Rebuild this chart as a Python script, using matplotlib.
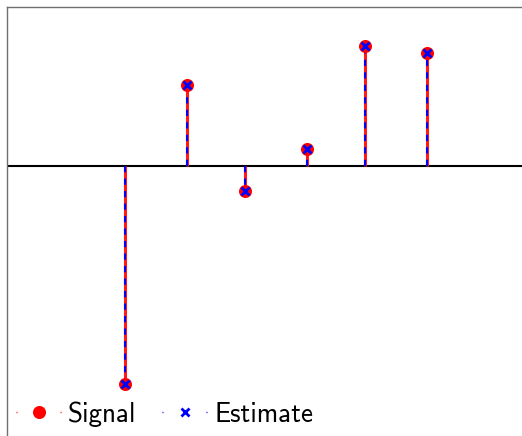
import matplotlib
matplotlib.use("Agg")
import matplotlib.pyplot as plt
from matplotlib.lines import Line2D
import numpy as np

# Sparse signal: support indices and amplitudes, plus the recovered estimate
support = [7, 22, 36, 51, 65, 80]
signal = [-2.175, 0.815, -0.245, 0.17, 1.20, 1.13]
estimate = [-2.175, 0.815, -0.245, 0.17, 1.20, 1.13]
labels = ["Signal", "Estimate"]

W, H, DPI = 522, 436, 100
fig = plt.figure(figsize=(W / DPI, H / DPI), dpi=DPI)

# Axes placed in pixel terms; the right and bottom edges run past the canvas
left_px, top_px, right_px, bottom_px = 7, 7, 530, 450
ax = fig.add_axes([left_px / W, (H - bottom_px) / H,
                   (right_px - left_px) / W, (bottom_px - top_px) / H])

# Zero line across the whole axes
ax.axhline(0, color="black", linewidth=1.5, zorder=1)

# Signal stems (red, solid)
ml, sl, bl = ax.stem(support, signal, linefmt="-", markerfmt="o", basefmt=" ")
plt.setp(sl, color="#ff1a1a", linewidth=2.2, zorder=2)
plt.setp(ml, color="red", markersize=9.4, markeredgewidth=0, zorder=4)
bl.set_visible(False)

# Estimate stems (blue, dashed) drawn on top
ml2, sl2, bl2 = ax.stem(support, estimate, linefmt="--", markerfmt="x", basefmt=" ")
plt.setp(sl2, color="blue", linewidth=1.5, linestyle=(0, (3, 3)), zorder=3)
plt.setp(ml2, color="blue", markersize=6, markeredgewidth=2.0, zorder=5)
bl2.set_visible(False)

# Scale: 100 px per unit, zero line at pixel row 166; 4.14 px per index
ax.set_ylim((166 - bottom_px) / 100, (166 - top_px) / 100)
ax.set_xlim(7 + (left_px - 124.7) / 4.14, 7 + (right_px - 124.7) / 4.14)

ax.set_xticks([])
ax.set_yticks([])
for side in ("top", "left"):
    ax.spines[side].set_color("#707070")
    ax.spines[side].set_linewidth(1.0)
for side in ("right", "bottom"):
    ax.spines[side].set_visible(False)

# Legend handles: marker with a sparse dotted line
fs = 19.5
em_px = fs * DPI / 72
handle_len_pt = 45 * 72 / DPI
dot = 0.7
h_sig = Line2D([], [], color="red", marker="o", markersize=9.4, markeredgewidth=0,
               linewidth=1.0, dashes=(dot, handle_len_pt - 2 * dot))
h_est = Line2D([], [], color="blue", marker="x", markersize=6, markeredgewidth=2.0,
               linewidth=1.0, dashes=(dot, handle_len_pt - 2 * dot))
leg = fig.legend([h_sig, h_est], labels, loc="center left",
                 bbox_to_anchor=(16 / W, (H - 414) / H),
                 ncol=2, frameon=False, borderpad=0, borderaxespad=0,
                 handlelength=45 / em_px, handletextpad=7 / em_px,
                 columnspacing=26 / em_px,
                 prop={"family": "cmss10", "size": fs})

fig.savefig("out.png", dpi=DPI)
